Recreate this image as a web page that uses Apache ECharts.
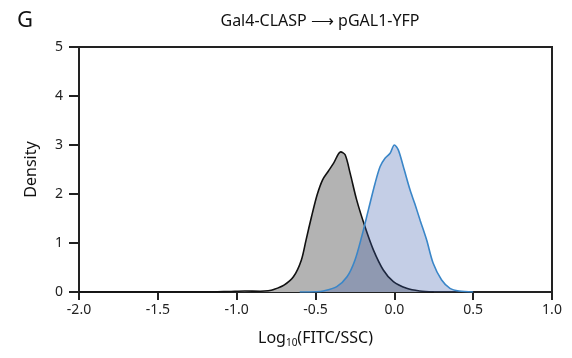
<!DOCTYPE html>
<html><head><meta charset="utf-8">
<script src="https://cdn.jsdelivr.net/npm/echarts@6/dist/echarts.min.js"></script>
<style>html,body{margin:0;padding:0;background:#fff}#c{width:572px;height:358px}</style>
</head><body><div id="c"></div>
<script>
var panelLetter = 'G';
var chartTitle = 'Gal4-CLASP \u27F6 pGAL1-YFP';
var xTicks = [-2.0, -1.5, -1.0, -0.5, 0.0, 0.5, 1.0];
var yTicks = [0, 1, 2, 3, 4, 5];
var blackX = [-2.0,-1.5,-1.2,-1.05,-0.95,-0.85,-0.8,-0.765,-0.70,-0.64,-0.59,-0.56,-0.525,-0.49,-0.455,-0.42,-0.385,-0.34,-0.312,-0.28,-0.239,-0.186,-0.133,-0.07,-0.006,0.078,0.16,0.25];
var blackY = [0,0,0,0.01,0.02,0.015,0.025,0.05,0.14,0.31,0.65,1.06,1.54,1.98,2.29,2.46,2.63,2.86,2.80,2.42,1.88,1.33,0.86,0.45,0.21,0.075,0.02,0];
var blueX = [-0.6,-0.5,-0.45,-0.365,-0.30,-0.25,-0.207,-0.165,-0.122,-0.09,-0.059,-0.027,0.0,0.025,0.057,0.10,0.13,0.165,0.205,0.247,0.30,0.353,0.41,0.5];
var blueY = [0,0.005,0.02,0.11,0.31,0.65,1.13,1.67,2.22,2.56,2.73,2.83,3.0,2.90,2.56,2.08,1.80,1.45,1.06,0.58,0.245,0.075,0.02,0];

function pairs(xs, ys){ return xs.map(function(x,i){ return [x, ys[i]]; }); }
var FONT = 'Noto Sans';
var chart = echarts.init(document.getElementById('c'));
chart.setOption({
  animation: false,
  textStyle: {fontFamily: FONT},
  title: [
    {text: panelLetter, left: 12, top: 5, textStyle: {fontFamily: FONT, fontSize: 22, fontWeight: 'normal', color: '#111'}},
    {text: chartTitle, left: 315, top: 8, textAlign: 'center', textStyle: {fontFamily: FONT, fontSize: 16, fontWeight: 'normal', color: '#111'}}
  ],
  grid: {left: 79, right: 20, top: 47, bottom: 66, show: true, borderColor: '#222', borderWidth: 2, backgroundColor: 'transparent'},
  xAxis: {
    type: 'value', min: -2, max: 1, interval: 0.5,
    axisLine: {show: true, onZero: false, lineStyle: {color: '#222', width: 2}},
    axisTick: {show: true, inside: false, length: 8, lineStyle: {color: '#222', width: 2}},
    axisLabel: {color: '#222', fontSize: 14, margin: 11, fontFamily: FONT, formatter: function(v){ return v.toFixed(1); }},
    splitLine: {show: false},
    name: '{a|Log}{s|10}{a|(FITC/SSC)}', nameLocation: 'middle', nameGap: 37,
    nameTextStyle: {rich: {a: {fontSize: 16, color: '#111', fontFamily: FONT}, s: {fontSize: 10, color: '#111', fontFamily: FONT, verticalAlign: 'bottom', padding: [9,0,0,0]}}}
  },
  yAxis: {
    type: 'value', min: 0, max: 5, interval: 1,
    axisLine: {show: true, onZero: false, lineStyle: {color: '#222', width: 2}},
    axisTick: {show: true, inside: false, length: 10, lineStyle: {color: '#222', width: 2}},
    axisLabel: {color: '#222', fontSize: 14, margin: 16, fontFamily: FONT},
    splitLine: {show: false},
    name: 'Density', nameLocation: 'middle', nameGap: 40,
    nameTextStyle: {fontSize: 16, color: '#111', fontFamily: FONT}
  },
  series: [
    {type: 'line', data: pairs(blackX, blackY), smooth: 0.3, symbol: 'none',
     lineStyle: {color: '#111', width: 1.6}, areaStyle: {color: '#b3b3b3', opacity: 1}, z: 2},
    {type: 'line', data: pairs(blueX, blueY), smooth: 0.3, symbol: 'none',
     lineStyle: {color: '#3a86c8', width: 1.6}, areaStyle: {color: 'rgba(58,92,172,0.3)', opacity: 1}, z: 3}
  ]
});
</script></body></html>
